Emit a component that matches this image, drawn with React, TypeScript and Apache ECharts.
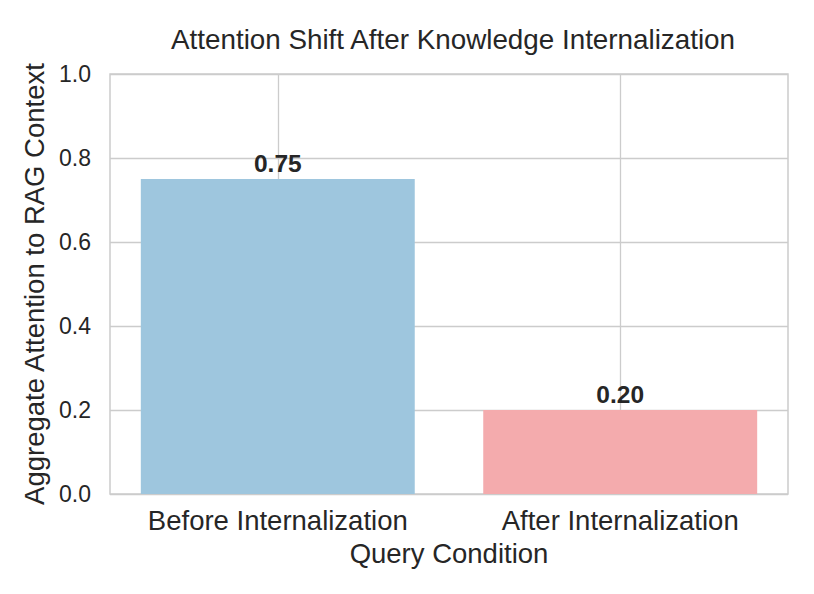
import React, { useEffect, useRef } from "react";
import * as echarts from "echarts";

const categories = ["Before Internalization", "After Internalization"];
const values = [0.75, 0.2];
const barColors = ["#9ec6de", "#f4abad"];
const yTicks = [0, 0.2, 0.4, 0.6, 0.8, 1.0];
const xPositions = categories.map((_, i) => i);

export default function App() {
  const ref = useRef<HTMLDivElement>(null);
  useEffect(() => {
    if (!ref.current) return;
    const chart = echarts.init(ref.current, undefined, { renderer: "svg" });
    const font = "'Liberation Sans', Arial, sans-serif";
    const dark = "#262626";
    chart.setOption({
      animation: false,
      backgroundColor: "#ffffff",
      textStyle: { fontFamily: font },
      title: {
        text: "Attention Shift After Knowledge Internalization",
        left: 448,
        textAlign: "center",
        top: 20,
        textStyle: { fontSize: 27.8, fontWeight: "normal", color: dark, fontFamily: font },
      },
      grid: {
        left: 110,
        right: 26,
        top: 74,
        bottom: 100,
        show: true,
        borderColor: "#cccccc",
        borderWidth: 1.5,
        backgroundColor: "transparent",
      },
      xAxis: {
        type: "value",
        min: -0.49,
        max: 1.49,
        axisLine: { show: false },
        axisTick: { show: false, customValues: xPositions },
        splitLine: {
          show: true,
          customValues: xPositions,
          lineStyle: { color: "#cccccc", width: 1.3 },
        },
        axisLabel: {
          fontSize: 27.5,
          color: dark,
          margin: 12,
          fontFamily: font,
          customValues: xPositions,
          formatter: (v: number) => {
            const i = Math.round(v);
            return Math.abs(v - i) < 1e-6 && categories[i] ? categories[i] : "";
          },
        },
        name: "Query Condition",
        nameLocation: "middle",
        nameGap: 45,
        nameTextStyle: { fontSize: 27.5, color: dark, fontFamily: font },
      },
      yAxis: {
        type: "value",
        min: 0,
        max: 1,
        interval: 0.2,
        axisLine: { show: false },
        axisTick: { show: false },
        axisLabel: {
          fontSize: 23,
          color: dark,
          margin: 19,
          fontFamily: font,
          formatter: (v: number) => (yTicks.includes(Math.round(v * 10) / 10) ? v.toFixed(1) : ""),
        },
        splitLine: { show: true, lineStyle: { color: "#cccccc", width: 1.3 } },
        name: "Aggregate Attention to RAG Context",
        nameLocation: "middle",
        nameGap: 56,
        nameTextStyle: { fontSize: 27.5, color: dark, fontFamily: font },
      },
      series: [
        {
          type: "bar",
          barWidth: "80%",
          z: 3,
          data: values.map((v, i) => ({ value: [xPositions[i], v], itemStyle: { color: barColors[i] } })),
          label: {
            show: true,
            position: "top",
            distance: 3,
            fontSize: 24.5,
            fontWeight: "bold",
            color: dark,
            fontFamily: font,
            formatter: (p: any) => Number(p.value[1]).toFixed(2),
          },
        },
      ],
    });
    return () => chart.dispose();
  }, []);
  return (
    <div
      ref={ref}
      style={{ position: "fixed", left: 0, top: 0, width: 814, height: 594 }}
    />
  );
}
